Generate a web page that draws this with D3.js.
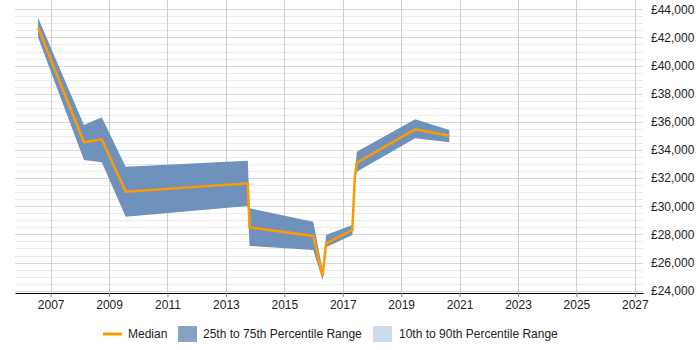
<!DOCTYPE html>
<html>
<head>
<meta charset="utf-8">
<script src="https://cdn.jsdelivr.net/npm/d3@7"></script>
<style>
  body { margin: 0; background: #fff; }
  text { font-family: "Liberation Sans", Arial, sans-serif; }
</style>
</head>
<body>
<script>
// decimal years of each sample
const dates  = [2006.57, 2008.14, 2008.75, 2009.57, 2013.75, 2013.81, 2015.99, 2016.31, 2016.43, 2017.33, 2017.41, 2017.48, 2019.48, 2020.65];
const median = [42700, 34550, 34760, 31040, 31630, 28500, 27890, 25050, 27370, 28310, 32000, 33100, 35470, 35020];
const p25    = [42000, 33290, 33130, 29260, 30020, 27180, 26890, 24760, 27090, 27960, 31850, 32460, 34830, 34550];
const p75    = [43400, 35780, 36320, 32810, 33240, 29860, 28900, 25500, 27960, 28670, 32150, 33880, 36180, 35420];

const yearTicks = d3.range(2007, 2028, 2);
const salaryTicks = d3.range(24000, 44001, 2000);
const minorTicks = d3.range(24000, 44001, 500);
const legendItems = ["Median", "25th to 75th Percentile Range", "10th to 90th Percentile Range"];

const width = 700, height = 350;
const plot = { left: 15, right: 643, top: 0, bottom: 293 };

const svg = d3.select("body").append("svg")
    .attr("width", width)
    .attr("height", height);

const x = d3.scaleLinear()
    .domain([2005.78, 2027.28])
    .range([plot.left, plot.right]);

const y = d3.scaleLinear()
    .domain([24000, 44000])
    .range([290.7, 9.3]);

const data = dates.map((d, i) => ({ date: d, median: median[i], lo: p25[i], hi: p75[i] }));

// horizontal grid
svg.append("g")
    .selectAll("line")
    .data(minorTicks)
    .join("line")
    .attr("x1", plot.left)
    .attr("x2", plot.right)
    .attr("y1", d => Math.round(y(d)) + 0.5)
    .attr("y2", d => Math.round(y(d)) + 0.5)
    .attr("stroke", d => d % 2000 === 0 ? "#d8d8d8" : "#ebebeb");

// vertical grid
svg.append("g")
    .selectAll("line")
    .data(yearTicks)
    .join("line")
    .attr("x1", d => Math.round(x(d)) + 0.5)
    .attr("x2", d => Math.round(x(d)) + 0.5)
    .attr("y1", plot.top)
    .attr("y2", plot.bottom)
    .attr("stroke", "#cfcfcf");

// 25th-75th band
const area = d3.area()
    .x(d => x(d.date))
    .y0(d => y(d.lo))
    .y1(d => y(d.hi));

svg.append("path")
    .datum(data)
    .attr("d", area)
    .attr("fill", "#6f92bd");

const line = d3.line()
    .x(d => x(d.date))
    .y(d => y(d.median));

svg.append("path")
    .datum(data)
    .attr("d", line)
    .attr("fill", "none")
    .attr("stroke", "#ff9900")
    .attr("stroke-width", 2.5)
    .attr("stroke-linejoin", "miter");

// x axis
const xAxis = svg.append("g")
    .attr("transform", `translate(0,${plot.bottom})`)
    .call(d3.axisBottom(x)
        .tickValues(yearTicks)
        .tickFormat(d3.format("d"))
        .tickSize(4)
        .tickSizeOuter(0)
        .tickPadding(3));
xAxis.select(".domain").attr("stroke", "#000").attr("stroke-width", 1.2);
xAxis.selectAll(".tick line").attr("stroke", "#888");
xAxis.selectAll("text").style("font-size", "12px").attr("fill", "#222");

// y axis on the right
const yAxis = svg.append("g")
    .attr("transform", `translate(${plot.right},0)`)
    .call(d3.axisRight(y)
        .tickValues(salaryTicks)
        .tickFormat(d => "£" + d3.format(",")(d))
        .tickSize(0)
        .tickPadding(8));
yAxis.select(".domain").remove();
yAxis.selectAll("text").style("font-size", "12px").attr("fill", "#222");

// legend
const legend = svg.append("g").attr("transform", "translate(0,334)");

legend.append("line")
    .attr("x1", 103).attr("x2", 122)
    .attr("y1", 0).attr("y2", 0)
    .attr("stroke", "#ff9900")
    .attr("stroke-width", 3);

legend.append("rect")
    .attr("x", 178).attr("y", -8)
    .attr("width", 19).attr("height", 16)
    .attr("fill", "#86a3c5");

legend.append("rect")
    .attr("x", 373).attr("y", -8)
    .attr("width", 19).attr("height", 16)
    .attr("fill", "#cddcec");

legend.selectAll(".legend-label")
    .data(legendItems)
    .join("text")
    .attr("class", "legend-label")
    .attr("x", (d, i) => [128, 203, 399][i])
    .attr("y", 0)
    .attr("dy", "0.35em")
    .style("font-size", "12px")
    .attr("fill", "#222")
    .text(d => d);
</script>
</body>
</html>
